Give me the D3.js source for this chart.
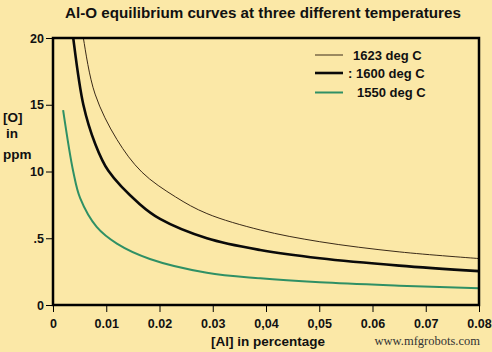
<!DOCTYPE html>
<html><head><meta charset="utf-8">
<script src="https://cdn.jsdelivr.net/npm/d3@7/dist/d3.min.js"></script>
<style>
html,body{margin:0;padding:0;background:#fbe8a7;}
svg{display:block;font-family:"Liberation Sans",Arial,sans-serif;}
</style></head><body>
<svg id="c" width="492" height="352"></svg>
<script>
const title = "Al-O equilibrium curves at three different temperatures";
const xTickValues = [0,0.01,0.02,0.03,0.04,0.05,0.06,0.07,0.08];
const xTickLabels = ["0","0.01","0.02","0.03","0,04","0,05","0.06","0.07","0.08"];
const yTickValues = [0,5,10,15,20];
const yTickLabels = ["0",".5","10","15","20"];
const seriesNames = ["1623 deg C","1600 deg C","1550 deg C"];

const al1623 = [0.0053,0.0057,0.0079,0.0120,0.0167,0.0230,0.0289,0.0389,0.0501,0.0650,0.0800];
const o1623  = [21.2,20.0,15.8,12.4,9.95,8.1,6.85,5.62,4.74,3.98,3.48];
const al1600 = [0.0035,0.0038,0.0057,0.0079,0.0104,0.0163,0.0201,0.0289,0.0389,0.0501,0.0650,0.0800];
const o1600  = [21.1,20.0,15.0,12.1,10.05,7.55,6.45,5.0,4.12,3.50,2.95,2.54];
const al1550 = [0.0019,0.0038,0.0051,0.0082,0.0120,0.0182,0.0289,0.0389,0.0501,0.0650,0.0800];
const o1550  = [14.6,10.0,8.0,5.85,4.6,3.45,2.42,2.0,1.70,1.45,1.25];

const svg = d3.select("#c");
const L=53, R=479, T=38, B=305;
const x = d3.scaleLinear().domain([0,0.08]).range([L,R]);
const y = d3.scaleLinear().domain([0,20]).range([B,T]);

svg.append("text").attr("x",263).attr("y",18).attr("text-anchor","middle")
  .attr("font-size",15.2).attr("font-weight","bold").attr("fill","#111").text(title);

svg.append("defs").append("clipPath").attr("id","clip")
  .append("rect").attr("x",L).attr("y",T).attr("width",R-L).attr("height",B-T);

const line = d3.line().x(d=>x(d[0])).y(d=>y(d[1])).curve(d3.curveCatmullRom.alpha(0.5));
const series = [
  {al:al1623,o:o1623,color:"#3a2a18",w:1},
  {al:al1600,o:o1600,color:"#0a0a0a",w:2.6},
  {al:al1550,o:o1550,color:"#2f9065",w:2}
];
const g = svg.append("g").attr("clip-path","url(#clip)");
series.forEach(s=>{
  g.append("path").datum(s.al.map((a,i)=>[a,s.o[i]]))
   .attr("d",line).attr("fill","none").attr("stroke",s.color).attr("stroke-width",s.w);
});

// frame
svg.append("rect").attr("x",L).attr("y",T).attr("width",R-L).attr("height",B-T)
  .attr("fill","none").attr("stroke","#000").attr("stroke-width",2.5);

// x axis
const xa = svg.append("g").attr("transform",`translate(0,${B})`)
  .call(d3.axisBottom(x).tickValues(xTickValues).tickSize(7).tickFormat((d,i)=>xTickLabels[i]));
xa.select(".domain").remove();
xa.selectAll("line").attr("stroke","#000").attr("stroke-width",1);
xa.selectAll("text").attr("font-size",12.5).attr("font-weight","bold").attr("fill","#111")
  .attr("font-family","Liberation Sans, Arial, sans-serif").attr("dy","1.0em");

// y axis
const ya = svg.append("g").attr("transform",`translate(${L},0)`)
  .call(d3.axisLeft(y).tickValues(yTickValues).tickSize(7).tickFormat((d,i)=>yTickLabels[i]));
ya.select(".domain").remove();
ya.selectAll("line").attr("stroke","#000").attr("stroke-width",1);
ya.selectAll("text").attr("font-size",12.5).attr("font-weight","bold").attr("fill","#111")
  .attr("font-family","Liberation Sans, Arial, sans-serif").attr("x",-9);

// y title
[["[O]",3,122],["in",6,138],["ppm",3,159]].forEach(t=>{
  svg.append("text").attr("x",t[1]).attr("y",t[2]).attr("font-size",13.5)
    .attr("font-weight","bold").attr("fill","#111").text(t[0]);
});
// x title
svg.append("text").attr("x",268).attr("y",346).attr("text-anchor","middle")
  .attr("font-size",13.5).attr("font-weight","bold").attr("fill","#111").text("[Al] in percentage");
// watermark
svg.append("text").attr("x",480).attr("y",345).attr("text-anchor","end")
  .attr("font-family","Liberation Serif, DejaVu Serif, serif").attr("font-size",12.5)
  .attr("fill","#333").text("www.mfgrobots.com");

// legend
const lg = [
  {y:55, tx:353, pre:""},
  {y:73, tx:348, pre:": "},
  {y:92.5, tx:357, pre:""}
];
lg.forEach((l,i)=>{
  svg.append("line").attr("x1",315).attr("x2",343).attr("y1",l.y).attr("y2",l.y)
    .attr("stroke",series[i].color).attr("stroke-width",series[i].w);
  svg.append("text").attr("x",l.tx).attr("y",l.y+4.5).attr("font-size",13)
    .attr("font-weight","bold").attr("fill","#111")
    .text(l.pre+seriesNames[i]);
});
</script>
</body></html>
